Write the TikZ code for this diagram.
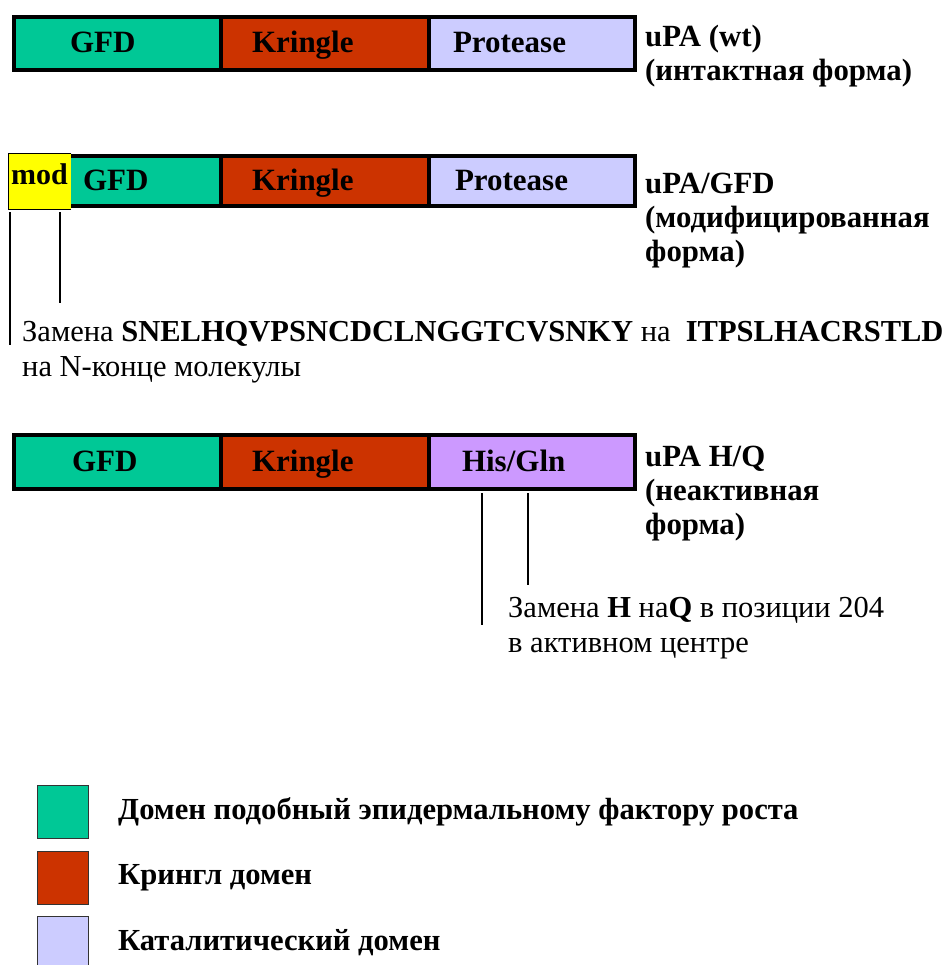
\documentclass[tikz,border=0pt]{standalone}
\usepackage{fontspec}
\setmainfont{Liberation Serif}
\usetikzlibrary{positioning}

\definecolor{gfdgreen}{RGB}{0,200,150}
\definecolor{kringlered}{RGB}{204,51,0}
\definecolor{protlilac}{RGB}{204,204,255}
\definecolor{hisviolet}{RGB}{204,153,255}
\definecolor{modyellow}{RGB}{255,255,0}

\begin{document}
\begin{tikzpicture}[x=1pt,y=-1pt,
  dombox/.style={draw, line width=3.5pt, minimum height=53pt, inner ysep=0pt, outer sep=0pt,
    align=left, text height=22pt, text depth=3pt, font=\fontsize{31}{33}\selectfont\bfseries},
  form/.style={anchor=north west, align=left, inner sep=0pt, font=\fontsize{30.8}{34}\selectfont\bfseries},
  note/.style={anchor=north west, align=left, inner sep=0pt, font=\fontsize{30.5}{35}\selectfont},
  connector/.style={line width=1.2pt},
  legbox/.style={draw=black!80, line width=1pt, minimum width=51pt, minimum height=53pt, inner sep=0pt, outer sep=0pt},
  legtext/.style={inner sep=0pt, font=\fontsize{30.6}{34}\selectfont\bfseries}]
  \useasboundingbox (0,0) rectangle (949,965);

  % uPA (wt)
  \node[dombox, fill=gfdgreen, minimum width=207pt, text width=95pt, inner xsep=56pt, anchor=north west] (gfd1) at (14,17) {GFD};
  \node[dombox, fill=kringlered, minimum width=208pt, text width=146pt, inner xsep=31pt, right=0pt of gfd1] (kr1) {Kringle};
  \node[dombox, fill=protlilac, minimum width=206pt, text width=158pt, inner xsep=24pt, right=0pt of kr1] (prot1) {Protease};
  \node[form] (wtform) at (645,25) {uPA (wt)\\(интактная форма)};

  % uPA/GFD with modified N-terminus
  \node[dombox, fill=gfdgreen, minimum height=50pt, minimum width=153pt, text width=123pt, inner xsep=15pt, anchor=north west] (gfd2) at (68,156) {GFD};
  \node[dombox, fill=kringlered, minimum height=50pt, minimum width=208pt, text width=146pt, inner xsep=31pt, right=0pt of gfd2] (kr2) {Kringle};
  \node[dombox, fill=protlilac, minimum height=50pt, minimum width=206pt, text width=154pt, inner xsep=26pt, right=0pt of kr2] (prot2) {Protease};
  \node[fill=modyellow, minimum width=63pt, minimum height=55pt, inner ysep=0pt, inner xsep=3pt, text width=57pt, align=left,
    text height=20pt, text depth=14pt, font=\fontsize{30}{32}\selectfont\bfseries, anchor=north west] (mod) at (8,154) {mod};
  \draw[line width=1pt] (mod.north east) -- (mod.north west) -- (mod.south west) -- (mod.south east);
  \node[form] (gfdform) at (645,173) {uPA/GFD\\(модифицированная\\форма)};

  \coordinate (tipA) at (10,345);
  \coordinate (tipB) at (60,303);
  \draw[connector, shorten <=3pt] (tipA |- mod.south) -- (tipA);
  \draw[connector, shorten <=3pt] (tipB |- mod.south) -- (tipB);
  \node[note] (modnote) at (22,321) {Замена \textbf{SNELHQVPSNCDCLNGGTCVSNKY} на\ \ \textbf{ITPSLHACRSTLD}\\на N-конце молекулы};

  % uPA H/Q
  \node[dombox, fill=gfdgreen, minimum height=54pt, minimum width=207pt, text width=91pt, inner xsep=58pt, anchor=north west] (gfd3) at (14,435) {GFD};
  \node[dombox, fill=kringlered, minimum height=54pt, minimum width=208pt, text width=146pt, inner xsep=31pt, right=0pt of gfd3] (kr3) {Kringle};
  \node[dombox, fill=hisviolet, minimum height=54pt, minimum width=206pt, text width=140pt, inner xsep=33pt, right=0pt of kr3] (hisgln) {His/Gln};
  \node[form] (hqform) at (645,446) {uPA H/Q\\(неактивная\\форма)};

  \coordinate (tipC) at (482,625);
  \coordinate (tipD) at (528,585);
  \draw[connector, shorten <=4pt] (tipC |- hisgln.south) -- (tipC);
  \draw[connector, shorten <=4pt] (tipD |- hisgln.south) -- (tipD);
  \node[note] (hqnote) at (508,597) {Замена \textbf{H} на\textbf{Q} в позиции 204\\в активном центре};

  % legend
  \node[legbox, fill=gfdgreen, anchor=north west] (leggfd) at (37,785) {};
  \node[legbox, fill=kringlered, below=13pt of leggfd] (legkr) {};
  \node[legbox, fill=protlilac, below=12pt of legkr] (legprot) {};
  \node[legtext, right=30pt of leggfd] (legtxtgfd) {Домен подобный эпидермальному фактору роста};
  \node[legtext, right=30pt of legkr] (legtxtkr) {Крингл домен};
  \node[legtext, right=30pt of legprot] (legtxtprot) {Каталитический домен};
\end{tikzpicture}
\end{document}
